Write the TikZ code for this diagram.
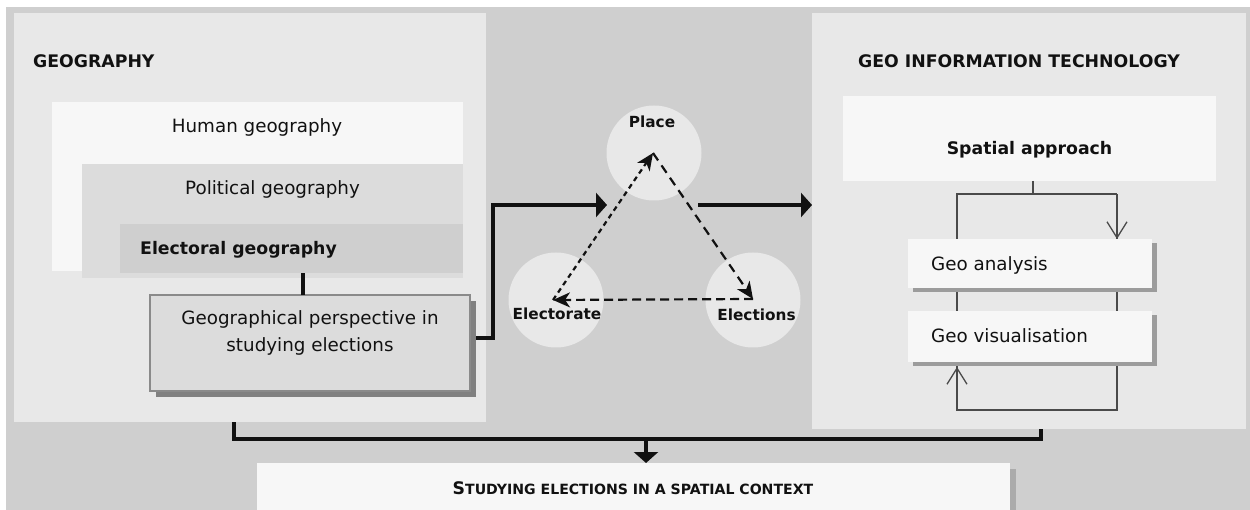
\documentclass[tikz,border=0pt]{standalone}
\usepackage{fontspec}
\setmainfont{DejaVu Sans}
\usetikzlibrary{arrows.meta,shadows}

\definecolor{bggray}{HTML}{CFCFCF}
\definecolor{panelgray}{HTML}{E8E8E8}
\definecolor{paper}{HTML}{F7F7F7}
\definecolor{midgray}{HTML}{DCDCDC}
\definecolor{deepgray}{HTML}{CFCFCF}
\definecolor{edgegray}{HTML}{8A8A8A}
\definecolor{shadowgray}{HTML}{808080}
\definecolor{softshadow}{HTML}{9C9C9C}
\definecolor{paleshadow}{HTML}{ABABAB}
\definecolor{loopgray}{HTML}{4A4A4A}
\definecolor{ink}{HTML}{111111}

\newcommand{\capl}[1]{{\fontsize{17.3}{20}\selectfont #1}}

\tikzset{
  area/.style={inner sep=0pt, outer sep=0pt, anchor=north west, draw=none},
  regtext/.style={font=\fontsize{18.3}{27}\selectfont, inner sep=0pt, text=ink},
  boldtext/.style={font=\fontsize{17.3}{22}\selectfont\bfseries, inner sep=0pt, text=ink},
  circtext/.style={font=\fontsize{15.3}{18}\selectfont\bfseries, inner sep=0pt, text=ink},
  disc/.style={circle, fill=panelgray, minimum size=95pt, inner sep=0pt, outer sep=0pt},
  heavy/.style={line width=3.5pt, draw=ink},
  bigtip/.style={-{Triangle[length=11pt,width=24pt]}},
  dashlink/.style={line width=2.2pt, draw=ink, -{Stealth[length=17pt,width=15pt,inset=5pt]}},
  loopline/.style={draw=loopgray, line width=1.3pt},
  barb/.style={-{Straight Barb[length=16pt,width=20pt]}},
}

\begin{document}
\begin{tikzpicture}[x=1pt,y=-1pt]
\useasboundingbox (0,0) rectangle (1250,510);
\fill[white] (0,0) rectangle (1250,510);
\fill[bggray] (6,7) rectangle (1250,510);

% ---- left panel: geography ----
\node[area, fill=panelgray, minimum width=472pt, minimum height=409pt] (geo) at (14,13) {};
\node[boldtext, anchor=base west] (geotitle) at (33,68) {GEOGRAPHY};

\node[area, fill=paper, minimum width=411pt, minimum height=169pt] (human) at (52,102) {};
\node[area, fill=midgray, minimum width=381pt, minimum height=114pt] (polit) at (82,164) {};
\node[area, fill=deepgray, minimum width=343pt, minimum height=49pt] (elect) at (120,224) {};
\node[regtext, anchor=base] (humantxt) at (257,133) {Human geography};
\node[regtext, anchor=base] (polittxt) at (272.5,195) {Political geography};
\node[boldtext, anchor=base west] (electtxt) at (140,255) {Electoral geography};

\node[area, fill=midgray, draw=edgegray, line width=1.6pt,
      minimum width=320pt, minimum height=96pt,
      drop shadow={shadow xshift=6pt, shadow yshift=-6pt, fill=shadowgray, opacity=1}] (persp) at (150,295) {};
% the base anchor of a two-line node sits on its last line
\node[regtext, anchor=base, align=center] (persptxt) at (310,352)
  {Geographical perspective in\\studying elections};

\draw[heavy] ([xshift=-7pt]persp.north) -- ([xshift=-7pt]persp.north |- elect.south);

% ---- right panel: geo information technology ----
\node[area, fill=panelgray, minimum width=434pt, minimum height=416pt] (git) at (812,13) {};
\node[boldtext, anchor=base west] (gittitle) at (858,68) {GEO INFORMATION TECHNOLOGY};

\node[area, fill=paper, minimum width=373pt, minimum height=85pt] (spatial) at (843,96) {};
\node[boldtext, anchor=base] (spatialtxt) at (1029.5,155) {Spatial approach};

% feedback loop between analysis and visualisation
\coordinate (loopTL) at (957,194);
\coordinate (loopTR) at (1117,194);
\coordinate (loopBL) at (957,410);
\coordinate (loopBR) at (1117,410);
\draw[loopline] ([xshift=3.5pt]spatial.south) -- ([xshift=3.5pt]spatial.south |- loopTL);
\draw[loopline] (loopTR) -- (loopTL) -- (loopBL) -- (loopBR) -- (loopTR);

\node[area, fill=paper, minimum width=244pt, minimum height=49pt,
      drop shadow={shadow xshift=5pt, shadow yshift=-4pt, fill=softshadow, opacity=1}] (anal) at (908,239) {};
\node[area, fill=paper, minimum width=244pt, minimum height=51pt,
      drop shadow={shadow xshift=5pt, shadow yshift=-4pt, fill=softshadow, opacity=1}] (vis) at (908,311) {};
\node[regtext, anchor=base west] (analtxt) at (931,271) {Geo analysis};
\node[regtext, anchor=base west] (vistxt) at (931,343) {Geo visualisation};

\draw[loopline, barb] ([yshift=22pt]loopTR |- anal.north) -- (loopTR |- anal.north);
\draw[loopline, barb] (loopBL) -- ([yshift=-5pt]loopBL |- vis.south);

% ---- centre: place, electorate, elections ----
\node[disc] (place) at (654,153) {};
\node[disc] (electorate) at (556,300) {};
\node[disc] (elections) at (753,300) {};
\node[circtext, anchor=base] (placetxt) at (652,128) {Place};
\node[circtext, anchor=base] (electoratetxt) at (557,320) {Electorate};
\node[circtext, anchor=base] (electionstxt) at (756.5,321) {Elections};

\coordinate (pP) at (653,153);
\coordinate (pL) at (553,300);
\coordinate (pR) at (753,299);
\draw[dashlink, dash pattern=on 9pt off 6pt] (pP) -- (pR);
\draw[dashlink, dash pattern=on 9pt off 5pt] (pR) -- (pL);
\draw[dashlink, dash pattern=on 5pt off 4pt] (pL) -- (pP);

% ---- main flow ----
\coordinate (intip) at (607,205);
\coordinate (outtail) at (698,205);
\draw[heavy, bigtip] ([xshift=6pt,yshift=5pt]persp.east) -- ++(17,0) |- (intip);
\draw[heavy, bigtip] (outtail) -- (git.west |- outtail);

% ---- bottom: result ----
\node[area, fill=paper, minimum width=753pt, minimum height=60pt,
      drop shadow={shadow xshift=6pt, shadow yshift=-6pt, fill=paleshadow, opacity=1}] (study) at (257,463) {};
\node[anchor=base, inner sep=0pt, text=ink, font=\fontsize{14.1}{18}\selectfont\bfseries] (studytxt) at (633,494)
  {\capl{S}TUDYING ELECTIONS IN A SPATIAL CONTEXT};

\coordinate (join) at (646,439);
\draw[heavy] ([xshift=-16pt]geo.south) -- ([xshift=-16pt]geo.south |- join) -| ([xshift=12pt]git.south);
\draw[heavy, bigtip] (join) -- (join |- study.north);
\end{tikzpicture}
\end{document}
